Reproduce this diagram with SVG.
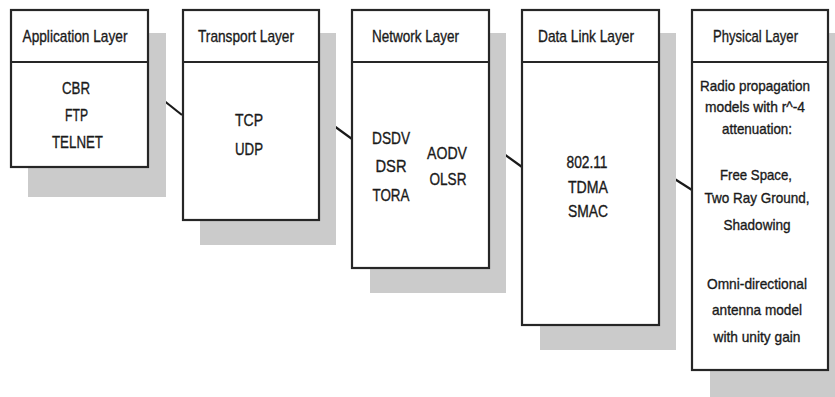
<svg xmlns="http://www.w3.org/2000/svg" width="835" height="397" viewBox="0 0 835 397">
<style>
.shadow{fill:#cbcbcb;stroke:none}
.box{fill:#ffffff;stroke:#262626;stroke-width:2.2}
.div{stroke:#262626;stroke-width:2.2}
.conn{stroke:#1a1a1a;stroke-width:2.2;fill:none}
text{font-family:"Liberation Sans",Arial,sans-serif;font-size:17px;fill:#1a1a1a;stroke:#1a1a1a;stroke-width:0.35;text-anchor:middle}
.ph{font-size:15px}
</style>
<rect width="835" height="397" fill="#ffffff"/>
<g id="connectors">
<line class="conn" x1="148" y1="88" x2="182" y2="115"/>
<line class="conn" x1="319" y1="115" x2="352" y2="139"/>
<line class="conn" x1="489" y1="143" x2="522" y2="167"/>
<line class="conn" x1="659" y1="169" x2="692" y2="190"/>
</g>
<g id="application">
<rect class="shadow" x="28" y="33" width="138" height="164"/>
<rect class="box" x="11" y="10" width="137" height="157"/>
<line class="div" x1="11" y1="62" x2="148" y2="62"/>
<text x="75" y="42" textLength="105" lengthAdjust="spacingAndGlyphs">Application Layer</text>
<text x="76" y="94" textLength="28" lengthAdjust="spacingAndGlyphs">CBR</text>
<text x="76.5" y="121" textLength="23" lengthAdjust="spacingAndGlyphs">FTP</text>
<text x="77.5" y="148" textLength="51" lengthAdjust="spacingAndGlyphs">TELNET</text>
</g>
<g id="transport">
<rect class="shadow" x="200" y="33" width="136" height="212"/>
<rect class="box" x="183" y="10" width="136" height="210"/>
<line class="div" x1="183" y1="62" x2="319" y2="62"/>
<text x="246" y="42" textLength="96" lengthAdjust="spacingAndGlyphs">Transport Layer</text>
<text x="249" y="126" textLength="28" lengthAdjust="spacingAndGlyphs">TCP</text>
<text x="249" y="155" textLength="28" lengthAdjust="spacingAndGlyphs">UDP</text>
</g>
<g id="network">
<rect class="shadow" x="370" y="33" width="136" height="260"/>
<rect class="box" x="352" y="10" width="137" height="258"/>
<line class="div" x1="352" y1="62" x2="489" y2="62"/>
<text x="415.5" y="42" textLength="87" lengthAdjust="spacingAndGlyphs">Network Layer</text>
<text x="391" y="144" textLength="38" lengthAdjust="spacingAndGlyphs">DSDV</text>
<text x="391" y="172" textLength="31" lengthAdjust="spacingAndGlyphs">DSR</text>
<text x="391" y="201" textLength="37" lengthAdjust="spacingAndGlyphs">TORA</text>
<text x="447" y="159" textLength="40" lengthAdjust="spacingAndGlyphs">AODV</text>
<text x="448" y="185" textLength="37" lengthAdjust="spacingAndGlyphs">OLSR</text>
</g>
<g id="datalink">
<rect class="shadow" x="540" y="33" width="136" height="317"/>
<rect class="box" x="522" y="10" width="137" height="315"/>
<line class="div" x1="522" y1="62" x2="659" y2="62"/>
<text x="586" y="42" textLength="96" lengthAdjust="spacingAndGlyphs">Data Link Layer</text>
<text x="587" y="168" textLength="41" lengthAdjust="spacingAndGlyphs">802.11</text>
<text x="588" y="193" textLength="40" lengthAdjust="spacingAndGlyphs">TDMA</text>
<text x="588" y="217" textLength="40" lengthAdjust="spacingAndGlyphs">SMAC</text>
</g>
<g id="physical">
<rect class="shadow" x="710" y="33" width="130" height="370"/>
<rect class="box" x="692" y="10" width="136" height="360"/>
<line class="div" x1="692" y1="62" x2="828" y2="62"/>
<text x="755.5" y="42" textLength="85" lengthAdjust="spacingAndGlyphs">Physical Layer</text>
<text class="ph" x="755" y="91" textLength="110" lengthAdjust="spacingAndGlyphs">Radio propagation</text>
<text class="ph" x="755" y="112" textLength="100" lengthAdjust="spacingAndGlyphs">models with r^-4</text>
<text class="ph" x="757" y="134" textLength="70" lengthAdjust="spacingAndGlyphs">attenuation:</text>
<text class="ph" x="756" y="180" textLength="72" lengthAdjust="spacingAndGlyphs">Free Space,</text>
<text class="ph" x="757" y="203" textLength="105" lengthAdjust="spacingAndGlyphs">Two Ray Ground,</text>
<text class="ph" x="757" y="230" textLength="67" lengthAdjust="spacingAndGlyphs">Shadowing</text>
<text class="ph" x="757" y="289" textLength="100" lengthAdjust="spacingAndGlyphs">Omni-directional</text>
<text class="ph" x="757" y="315" textLength="90" lengthAdjust="spacingAndGlyphs">antenna model</text>
<text class="ph" x="757" y="342" textLength="87" lengthAdjust="spacingAndGlyphs">with unity gain</text>
</g>
</svg>
